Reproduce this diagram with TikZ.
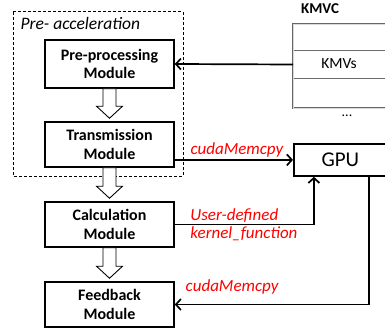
\documentclass[tikz,border=0pt]{standalone}
\usepackage{fontspec}
\setmainfont{Carlito}
\usetikzlibrary{calc, arrows.meta, positioning}

\tikzset{
  module/.style={draw, line width=1.5pt, fill=white, minimum width=129pt, minimum height=45pt,
    align=center, font=\fontsize{16}{18.5}\selectfont\bfseries},
  rowbox/.style={draw=gray!85!black, line width=1pt, minimum width=110pt, anchor=north west, inner sep=0pt},
  flow/.style={line width=1.7pt, -{Straight Barb[length=5pt,width=11pt]}},
  tag/.style={text=red, font=\fontsize{17}{20}\selectfont\itshape, inner sep=1.5pt}
}
% hollow block arrow from the bottom of one module to the top of the next
\newcommand{\blockdown}[2]{%
  \draw[line width=0.9pt, fill=white] let \p1=(#1.south), \p2=(#2.north) in
    (\x1-6.5pt,\y1) -- (\x1+6.5pt,\y1) -- (\x1+6.5pt,\y2+15pt) -- (\x1+13pt,\y2+15pt)
    -- (\x1,\y2+3pt) -- (\x1-13pt,\y2+15pt) -- (\x1-6.5pt,\y2+15pt) -- cycle;}

\begin{document}
\begin{tikzpicture}[x=1pt, y=-1pt]
\useasboundingbox (0,0) rectangle (385,331);
\clip (0,0) rectangle (385,331);

% pre-acceleration stage
\draw[dash pattern=on 3pt off 2pt, line width=1pt] (13,12) rectangle (183,176);
\node[anchor=west, font=\fontsize{17.5}{20}\selectfont\itshape] (stage) at (17,23) {Pre- acceleration};

\node[module, minimum height=48pt] (pre) at (109.5,64) {Pre-processing\\Module};
\node[module] (trans) at (109.5,144.5) {Transmission\\Module};
\node[module] (calc) at (109.5,224.5) {Calculation\\Module};
\node[module] (feed) at (109.5,304.5) {Feedback\\Module};

\blockdown{pre}{trans}
\blockdown{trans}{calc}
\blockdown{calc}{feed}

% KMVC table
\node[font=\fontsize{15}{18}\selectfont\bfseries] (kmvc) at (320,9) {KMVC};
\node[rowbox, minimum height=26pt] (row1) at (293,24) {};
\node[rowbox, minimum height=28pt] (row2) at (293,50) {};
\node[rowbox, minimum height=29pt] (row3) at (293,78) {};
\draw[gray!80!black, double=gray!30, double distance=0.8pt, line width=0.8pt] (row1.north west) rectangle (row3.south east);
\node[font=\fontsize{15.5}{18}\selectfont] (kmvs) at (339,64) {KMVs};
\node[font=\fontsize{14}{17}\selectfont] (dots) at (347,116) {...};

% GPU
\node[draw, line width=1.8pt, minimum width=102pt, minimum height=32pt, anchor=north west,
  font=\fontsize{21}{25}\selectfont] (gpu) at (293,143) {\hspace*{-9pt}GPU};

\draw[flow] (row2.west) -- (pre.east);
\draw[flow] (gpu.west -| trans.east) -- node[tag, above, xshift=3pt] {cudaMemcpy} (gpu.west);
\draw[flow] (calc.east) -| coordinate (up) ([xshift=-31pt]gpu.south);
\node[tag, anchor=south west] (udf) at ([xshift=14pt]calc.east) {User-defined};
\node[tag, anchor=north west] (kfn) at ([xshift=14pt]calc.east) {kernel\_function};
\draw[flow] ([xshift=24pt]gpu.south) |- (feed.east);
\node[tag, anchor=west] (back) at (184,287) {cudaMemcpy};
\end{tikzpicture}
\end{document}
